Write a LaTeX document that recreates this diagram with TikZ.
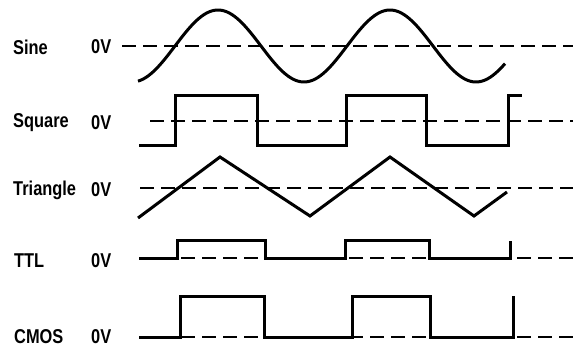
\documentclass[tikz,border=0pt]{standalone}
\usepackage{fontspec}
\setmainfont[FakeStretch=0.82]{Liberation Sans}
\usetikzlibrary{positioning}

\begin{document}
\begin{tikzpicture}[x=1pt,y=-1pt,
    wave/.style={line width=3pt, line join=miter},
    zero/.style={line width=2.6pt, dash pattern=on 14pt off 7pt},
    sig/.style={anchor=west, inner sep=0pt, font=\fontsize{20}{24}\selectfont\bfseries}]
    \useasboundingbox (0,0) rectangle (573,350);
    % Labels
    \node[sig] (sine) at (13,47) {Sine};
    \node[sig] (sinev) at (91,47) {0V};
    \node[sig] (square) at (13,123) {Square};
    \node[sig] (squarev) at (91,123) {0V};
    \node[sig] (tri) at (13,190) {Triangle};
    \node[sig] (triv) at (91,190) {0V};
    \node[sig] (ttl) at (14,261) {TTL};
    \node[sig] (ttlv) at (91,261) {0V};
    \node[sig] (cmos) at (14,337) {CMOS};
    \node[sig] (cmosv) at (91,337) {0V};
    % Sine
    \draw[zero] (122,46) -- (573,46);
    \draw[wave] plot[domain=138:505, samples=150, smooth] (\x, {46-36*sin(2.093*(\x-175))});
    % Square
    \draw[zero] (150,121) -- (573,121);
    \draw[wave] (139,146) -- (175,146) -- (175,96) -- (257,96) -- (257,146)
      -- (346,146) -- (346,96) -- (426,96) -- (426,146) -- (508,146) -- (508,96) -- (522,96);
    % Triangle
    \draw[zero] (140,188) -- (573,188);
    \draw[wave] (138,218) -- (220,157) -- (310,216) -- (390,157) -- (474,216) -- (507,192);
    % TTL
    \draw[zero] (139,258) -- (573,258);
    \draw[wave] (139,258) -- (177,258) -- (177,240) -- (265,240) -- (265,258)
      -- (345,258) -- (345,240) -- (429,240) -- (429,258) -- (510,258) -- (510,241);
    % CMOS
    \draw[zero] (139,337) -- (573,337);
    \draw[wave] (139,337) -- (180,337) -- (180,296) -- (264,296) -- (264,337)
      -- (352,337) -- (352,296) -- (430,296) -- (430,337) -- (513,337) -- (513,296);
\end{tikzpicture}
\end{document}
